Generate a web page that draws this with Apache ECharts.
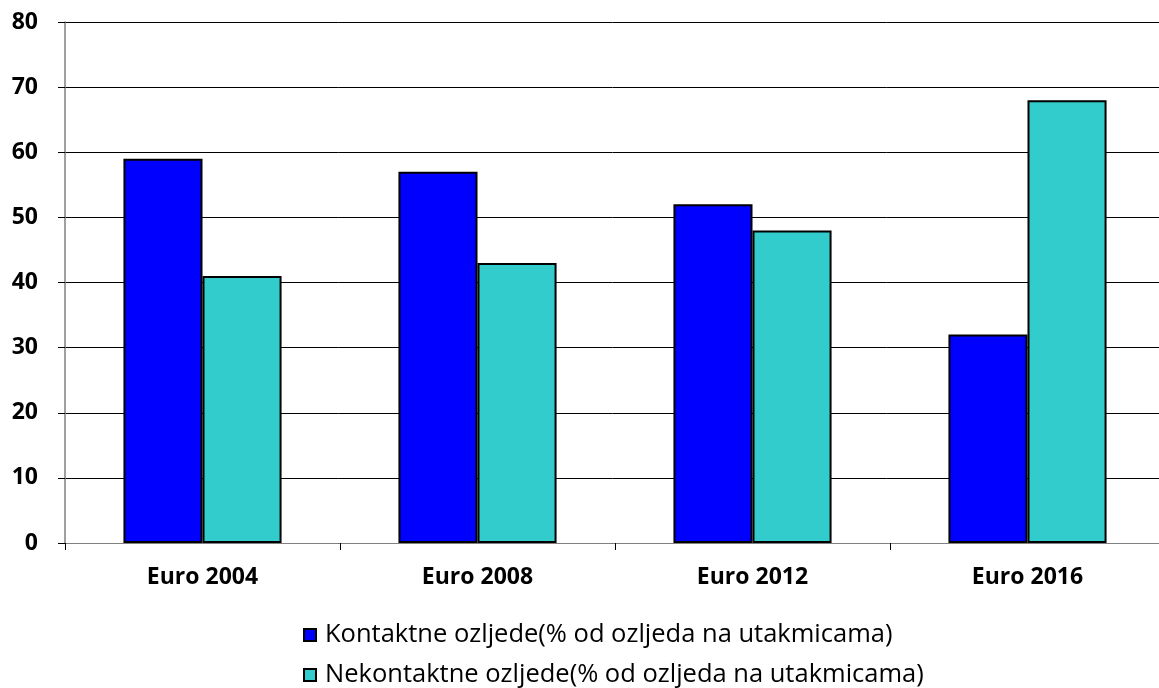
<!DOCTYPE html>
<html><head><meta charset="utf-8">
<script src="https://cdn.jsdelivr.net/npm/echarts@6/dist/echarts.min.js"></script>
<style>html,body{margin:0;padding:0;background:#fff}#c{width:1159px;height:688px}</style>
</head><body><div id="c"></div>
<script>
const categories = ['Euro 2004', 'Euro 2008', 'Euro 2012', 'Euro 2016'];
const kontaktne = [59, 57, 52, 32];
const nekontaktne = [41, 43, 48, 68];
const seriesNames = ['Kontaktne ozljede(% od ozljeda na utakmicama)', 'Nekontaktne ozljede(% od ozljeda na utakmicama)'];
const yTicks = {min: 0, max: 80, interval: 10};

const font = "'Open Sans', 'Noto Sans', sans-serif";
const legendText = {fontFamily: font, fontSize: 25.5, lineHeight: 30, color: '#000', padding: [0, 0, 0, 4]};
const chart = echarts.init(document.getElementById('c'), null, {renderer: 'canvas'});
chart.setOption({
  animation: false,
  backgroundColor: '#fff',
  grid: {left: 65, width: 1100, top: 22, bottom: 145, containLabel: false, outerBoundsMode: 'none'},
  legend: [
    {left: 298, top: 615, itemWidth: 12, itemHeight: 12, icon: 'rect', textStyle: legendText, data: [seriesNames[0]]},
    {left: 298, top: 655, itemWidth: 12, itemHeight: 12, icon: 'rect', textStyle: legendText, data: [seriesNames[1]]}
  ],
  xAxis: {
    type: 'category', data: categories,
    axisLine: {lineStyle: {color: '#808080', width: 1}},
    axisTick: {show: true, alignWithLabel: false, length: 7, lineStyle: {color: '#000'}},
    axisLabel: {fontFamily: font, fontWeight: 'bold', fontSize: 23, color: '#000', margin: 23}
  },
  yAxis: {
    type: 'value', min: yTicks.min, max: yTicks.max, interval: yTicks.interval,
    axisLine: {show: true, lineStyle: {color: '#808080', width: 1.5}},
    axisTick: {show: true, length: 7, lineStyle: {color: '#000'}},
    splitLine: {lineStyle: {color: '#000', width: 1}},
    axisLabel: {fontFamily: font, fontWeight: 'bold', fontSize: 23, color: '#000', margin: 27}
  },
  series: [
    {name: seriesNames[0], type: 'bar', data: kontaktne, barGap: '0%', barCategoryGap: '42.5%',
     itemStyle: {color: '#0000FF', borderColor: '#000', borderWidth: 2}},
    {name: seriesNames[1], type: 'bar', data: nekontaktne,
     itemStyle: {color: '#33CCCC', borderColor: '#000', borderWidth: 2}}
  ]
});
</script></body></html>
